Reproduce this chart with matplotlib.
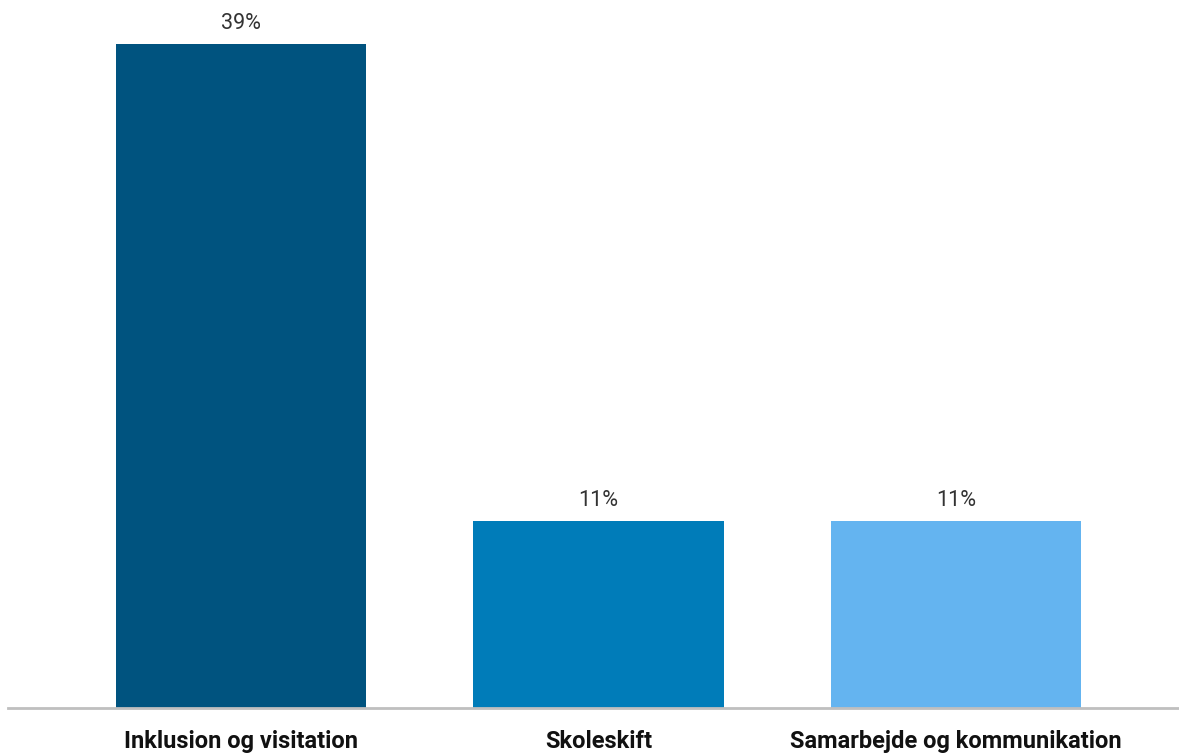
import matplotlib.pyplot as plt

categories = ['Inklusion og visitation', 'Skoleskift', 'Samarbejde og kommunikation']
values = [39, 11, 11]
value_labels = ['39%', '11%', '11%']
colors = ['#00537F', '#007CB9', '#64B4F0']

fig = plt.figure(figsize=(11.79, 7.53), dpi=100)
ax = fig.add_axes([8 / 1179, 45 / 753, 1 - 8 / 1179, 708 / 753])

x = range(len(categories))
bars = ax.bar(x, values, width=0.7, color=colors)

for b, lab in zip(bars, value_labels):
    ax.text(b.get_x() + b.get_width() / 2, b.get_height() + 0.55, lab,
            ha='center', va='bottom', fontsize=15.5, color='#333333',
            family='Roboto')

ax.set_xlim(-0.652, 2.624)
ax.set_ylim(0, 41.57)
ax.set_yticks([])
ax.set_xticks(list(x))
ax.set_xticklabels(categories, fontsize=17, fontweight='bold', family='Roboto',
                   color='#111111')
ax.tick_params(axis='x', length=0, pad=16)

for s in ['top', 'right', 'left']:
    ax.spines[s].set_visible(False)
ax.spines['bottom'].set_color('#BFBFBF')
ax.spines['bottom'].set_linewidth(2)

fig.savefig('out.png', dpi=100)
